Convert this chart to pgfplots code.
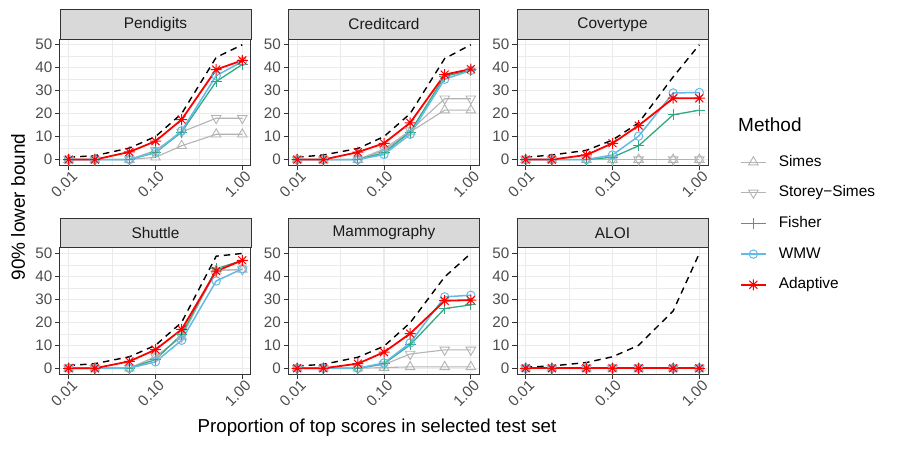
\documentclass[border=0pt]{standalone}
\usepackage{fontspec}
\setmainfont{Liberation Sans}
\usepackage{pgfplots}
\usepackage{pgfplotstable}
\pgfplotsset{compat=1.18}
\pgfkeys{/pgf/number format/assume math mode=true}

\definecolor{gridc}{HTML}{EBEBEB}
\definecolor{g20}{HTML}{333333}
\definecolor{g30}{HTML}{4D4D4D}
\definecolor{g10}{HTML}{1A1A1A}
\definecolor{stripc}{HTML}{D9D9D9}
\definecolor{simesc}{HTML}{B3B3B3}
\definecolor{fisherc}{HTML}{33A983}
\definecolor{wmwc}{HTML}{62BAE7}

% 8-armed asterisk, like ggplot shape 8
\pgfdeclareplotmark{ast8}{%
  \pgfpathmoveto{\pgfqpoint{-\pgfplotmarksize}{0pt}}\pgfpathlineto{\pgfqpoint{\pgfplotmarksize}{0pt}}%
  \pgfpathmoveto{\pgfqpoint{0pt}{-\pgfplotmarksize}}\pgfpathlineto{\pgfqpoint{0pt}{\pgfplotmarksize}}%
  \pgfpathmoveto{\pgfqpoint{-0.72\pgfplotmarksize}{-0.72\pgfplotmarksize}}\pgfpathlineto{\pgfqpoint{0.72\pgfplotmarksize}{0.72\pgfplotmarksize}}%
  \pgfpathmoveto{\pgfqpoint{-0.72\pgfplotmarksize}{0.72\pgfplotmarksize}}\pgfpathlineto{\pgfqpoint{0.72\pgfplotmarksize}{-0.72\pgfplotmarksize}}%
  \pgfusepathqstroke}

% x oracle simes storey fisher wmw adaptive
\pgfplotstableread{
x    oracle simes storey fisher wmw  adaptive
0.01 1.0    0     0      0      0    0
0.02 1.7    0     0      0      0    0
0.05 5.0    0     0      0      0    3.3
0.1  10     1     4      3      3.2  8
0.2  20     6     12     12     12.5 17.4
0.5  44.5   11    18     34     36.5 39.2
1.0  50     11    18     41.4   42.7 43.2
}\tabpend
\pgfplotstableread{
x    oracle simes storey fisher wmw  adaptive
0.01 1.0    0     0      0      0    0
0.02 2.0    0     0      0      0    0
0.05 4.8    0     0      0      0    3.2
0.1  10     4     4.6    3      2.2  7.1
0.2  20     12    12.6   12     11   16
0.5  44     21.5  26.5   36.3   35   37
1.0  50     21.5  26.5   38.8   38.8 39.4
}\tabcredit
\pgfplotstableread{
x    oracle simes storey fisher wmw  adaptive
0.01 1.0    0     0      0      0    0
0.02 2.0    0     0      0      0    0
0.05 4.0    0     0      0      0    2
0.1  8.5    0     0      1      2    7.1
0.2  16     0     0      6      10.2 14.8
0.5  36     0     0      19.5   29   26.7
1.0  50     0     0      21.5   29.2 26.7
}\tabcover
\pgfplotstableread{
x    oracle simes storey fisher wmw  adaptive
0.01 1.2    0     0      0      0    0
0.02 2.0    0     0      0      0    0
0.05 5.0    0     0      0      0    3
0.1  10     5     5      3.8    2.8  8.1
0.2  20     13.7  13.7   14.7   12.2 16.9
0.5  48.8   42.6  42.6   43.3   38   42.3
1.0  50     43    43     47     43.3 47
}\tabshuttle
\pgfplotstableread{
x    oracle simes storey fisher wmw  adaptive
0.01 1.0    0     0      0      0    0
0.02 1.7    0     0      0      0    0
0.05 4.8    0     0      0      0    2
0.1  9.6    0.3   1.6    2      2.3  7
0.2  19.8   0.6   6.2    10.2   11   15.1
0.5  39.8   0.6   8      26     31.1 29.4
1.0  50     0.6   8      27.6   31.8 29.7
}\tabmammo
\pgfplotstableread{
x    oracle simes storey fisher wmw  adaptive
0.01 0.5    0     0      0      0    0
0.02 1      0     0      0      0    0
0.05 2.5    0     0      0      0    0
0.1  5      0     0      0      0    0
0.2  10     0     0      0      0    0
0.5  25     0     0      0      0    0
1.0  50     0     0      0      0    0
}\tabaloi

\pgfplotsset{
  every axis/.append style={
    width=191pt, height=126.3pt, scale only axis, anchor=south west,
    xmin=0.007943, xmax=1.2589, ymin=-2.5, ymax=52.5,
    xtick={0.01,0.1,1}, xticklabels={0.01,0.10,1.00},
    minor xtick={0.0316228,0.316228},
    ytick={0,10,...,50}, minor ytick={5,15,...,45},
    grid=both,
    major grid style={color=gridc, line width=1.07pt},
    minor grid style={color=gridc, line width=0.53pt},
    axis line style={draw=g20, line width=1pt},
    major tick style={draw=g20, line width=1pt},
    major tick length=5pt, minor tick length=0pt,
    tick align=outside, tick pos=left,
    clip=false,
    tick label style={font=\fontsize{15.2}{17}\selectfont, text=g30},
    yticklabel style={inner sep=2.5pt},
    xticklabel style={rotate=45, anchor=north east, inner sep=1pt, xshift=3pt},
  },
  oracle/.style={black, line width=1.4pt, dash pattern=on 6.5pt off 5pt, no marks, forget plot},
  simes/.style={simesc, line width=1.1pt, mark=triangle, mark size=5.5pt, mark options={solid, line width=0.9pt}},
  storey/.style={simesc, line width=1.1pt, mark=triangle, mark size=5.5pt, mark options={solid, rotate=180, line width=0.9pt}},
  fisher/.style={fisherc, line width=1.3pt, mark=+, mark size=5.5pt, mark options={solid, line width=1pt}},
  wmw/.style={wmwc, line width=1.5pt, mark=o, mark size=4.2pt, mark options={solid, line width=1pt}},
  adapt/.style={red, line width=1.8pt, mark=ast8, mark size=5.5pt, mark options={solid, line width=1pt}},
}

\newcommand{\drawall}[1]{%
  \addplot[oracle] table[x=x, y=oracle] {#1};
  \addplot[simes] table[x=x, y=simes] {#1};
  \addplot[storey] table[x=x, y=storey] {#1};
  \addplot[fisher] table[x=x, y=fisher] {#1};
  \addplot[wmw] table[x=x, y=wmw] {#1};
  \addplot[adapt] table[x=x, y=adaptive] {#1};
}

\newcommand{\facetstrip}[2]{%
  \draw[fill=stripc, draw=g20, line width=1pt] (#1.north west) rectangle ([yshift=29.5pt]#1.north east);
  \node[text=g10, font=\fontsize{15.4}{17}\selectfont] at ([yshift=14.75pt]#1.north) {#2};
}

\begin{document}
\begin{tikzpicture}
\path[use as bounding box] (0,0) rectangle (897pt,-449pt);

\begin{semilogxaxis}[name=p1, at={(60pt,-165.3pt)}]
\drawall{\tabpend}
\end{semilogxaxis}
\facetstrip{p1}{Pendigits}

\begin{semilogxaxis}[name=p2, at={(288.5pt,-165.3pt)}]
\drawall{\tabcredit}
\end{semilogxaxis}
\facetstrip{p2}{Creditcard}

\begin{semilogxaxis}[name=p3, at={(517pt,-165.3pt)}]
\drawall{\tabcover}
\end{semilogxaxis}
\facetstrip{p3}{Covertype}

\begin{semilogxaxis}[name=p4, at={(60pt,-374pt)}]
\drawall{\tabshuttle}
\end{semilogxaxis}
\facetstrip{p4}{Shuttle}

\begin{semilogxaxis}[name=p5, at={(288.5pt,-374pt)}]
\drawall{\tabmammo}
\end{semilogxaxis}
\facetstrip{p5}{Mammography}

\begin{semilogxaxis}[name=p6, at={(517pt,-374pt)},
  legend style={at={(1.1675,1.192)}, anchor=west, draw=none, fill=none,
    inner sep=0pt, outer sep=0pt, font=\fontsize{15.4}{17}\selectfont,
    row sep=16.15pt, column sep=12pt,
    nodes={inner sep=0pt, text height=11.2pt, text depth=3.3pt}},
  legend cell align=left,
  legend image code/.code={\draw[mark repeat=2, mark phase=2] plot coordinates {(0pt,0pt) (12.5pt,0pt) (25pt,0pt)};}]
\drawall{\tabaloi}
\legend{Simes, Storey−Simes, Fisher, WMW, Adaptive}
\end{semilogxaxis}
\facetstrip{p6}{ALOI}

\node[rotate=90, font=\fontsize{19}{21}\selectfont] at (18pt,-207pt) {90\% lower bound};
\node[font=\fontsize{18.7}{21}\selectfont] at (377pt,-428pt) {Proportion of top scores in selected test set};
\node[anchor=west, font=\fontsize{19}{21}\selectfont, inner sep=0pt] at (738pt,-125pt) {Method};
\end{tikzpicture}
\end{document}
